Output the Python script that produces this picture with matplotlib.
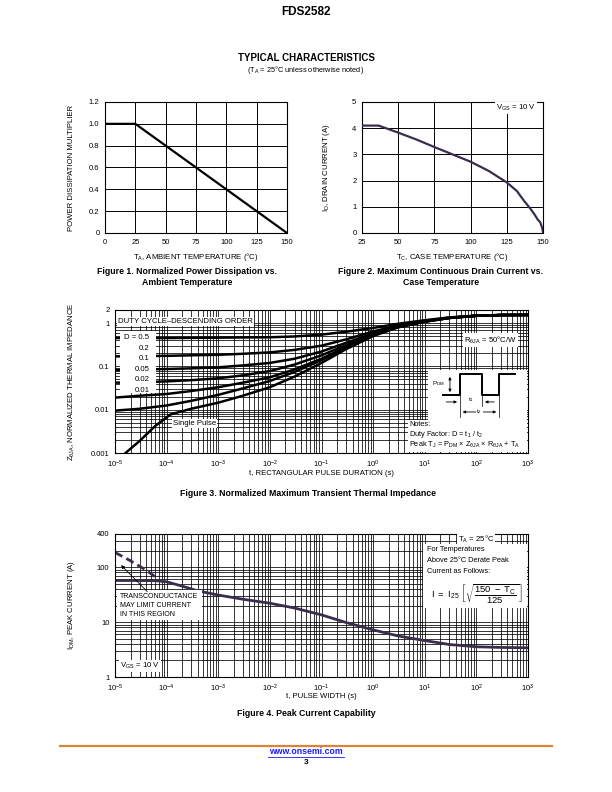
import matplotlib
matplotlib.use('Agg')
import matplotlib.pyplot as plt
import numpy as np
from matplotlib.patches import Rectangle
from matplotlib.lines import Line2D
from matplotlib.ticker import FixedLocator, LogLocator, NullFormatter

plt.rcParams['font.family'] = ['Liberation Sans', 'DejaVu Sans']
plt.rcParams['mathtext.fontset'] = 'custom'
plt.rcParams['mathtext.rm'] = 'Liberation Sans'
plt.rcParams['mathtext.it'] = 'Liberation Sans:italic'
plt.rcParams['mathtext.bf'] = 'Liberation Sans:bold'

# Figure 1
temp_a = [0, 25, 150]
power_mult = [1.0, 1.0, 0.0]

# Figure 2
temp_c = [25, 36.5, 50, 62.5, 75, 87.5, 100, 112.5, 125, 132, 137, 141, 144, 146.5, 148, 149.3, 149.8, 150]
drain_i = [4.1, 4.1, 3.83, 3.57, 3.28, 3.0, 2.72, 2.37, 1.93, 1.6, 1.22, 0.95, 0.72, 0.5, 0.42, 0.22, 0.1, 0.0]

# Figure 3
t_pulse = [1e-5, 3e-5, 1e-4, 3e-4, 1e-3, 3e-3, 1e-2, 3e-2, 1e-1, 3e-1, 1, 3, 10, 30, 100, 300, 1000]
z_d05 = [0.45, 0.45, 0.45, 0.455, 0.46, 0.465, 0.47, 0.49, 0.54, 0.63, 0.77, 0.96, 1.16, 1.35, 1.48, 1.53, 1.54]
z_d02 = [0.17, 0.172, 0.175, 0.18, 0.185, 0.195, 0.21, 0.24, 0.3, 0.42, 0.64, 0.88, 1.12, 1.33, 1.47, 1.53, 1.54]
z_d01 = [0.082, 0.084, 0.087, 0.09, 0.095, 0.105, 0.12, 0.15, 0.22, 0.35, 0.58, 0.84, 1.1, 1.32, 1.47, 1.53, 1.54]
z_d005 = [0.042, 0.043, 0.045, 0.048, 0.053, 0.062, 0.078, 0.11, 0.18, 0.31, 0.55, 0.82, 1.09, 1.32, 1.47, 1.53, 1.54]
z_d002 = [0.019, 0.021, 0.023, 0.027, 0.033, 0.042, 0.056, 0.085, 0.15, 0.28, 0.53, 0.81, 1.08, 1.31, 1.47, 1.53, 1.54]
z_d001 = [0.0095, 0.0105, 0.0125, 0.016, 0.022, 0.031, 0.046, 0.074, 0.14, 0.27, 0.52, 0.8, 1.08, 1.31, 1.47, 1.53, 1.54]
t_single = [1.6e-5, 3e-5, 6e-5, 1.2e-4, 3e-4, 1e-3, 3e-3, 1e-2, 3e-2, 1e-1, 3e-1, 1, 3, 10, 30, 100, 300, 1000]
z_single = [0.001, 0.0019, 0.0042, 0.0078, 0.0105, 0.0145, 0.021, 0.033, 0.058, 0.12, 0.25, 0.5, 0.79, 1.07, 1.31, 1.47, 1.53, 1.54]
duty_labels = ['D = 0.5', '0.2', '0.1', '0.05', '0.02', '0.01']

# Figure 4
t_width = [1e-5, 3e-5, 6e-5, 1e-4, 2e-4, 4e-4, 1e-3, 3e-3, 1e-2, 3e-2, 1e-1, 3e-1, 1, 3, 10, 30, 100, 300, 1000]
i_peak = [57, 57, 56.5, 54, 45, 37, 31, 26, 22, 18, 13.5, 9.8, 7.2, 5.6, 4.6, 3.9, 3.55, 3.45, 3.4]
t_gm = [1e-5, 2e-5, 4e-5, 7e-5]
i_gm = [185, 130, 88, 60]

W, H = 612, 792
fig = plt.figure(figsize=(W / 100, H / 100), dpi=100)


def px_axes(l, t, r, b):
    return fig.add_axes([l / W, 1 - b / H, (r - l) / W, (b - t) / H])


def ftext(x, y, s, **kw):
    fig.text(x / W, 1 - y / H, s, **kw)


TICK = 5.5
purple = '#3b2d4d'

# ---- header ----
ftext(306, 12, 'FDS2582', ha='center', va='center', fontsize=8.5, fontweight='bold')
ftext(306, 58, 'TYPICAL CHARACTERISTICS', ha='center', va='center', fontsize=7, fontweight='bold')
ftext(306, 70, r'(T$_\mathregular{A}$ = 25°C unless otherwise noted)', ha='center', va='center', fontsize=5.3)

# ---- Figure 1 ----
ax1 = px_axes(105, 102, 287, 233)
ax1.plot(temp_a, power_mult, color='black', lw=1.6, zorder=3)
ax1.set_xlim(0, 150)
ax1.set_ylim(0, 1.2)
ax1.set_xticks(range(0, 151, 25))
ax1.set_yticks(np.arange(0, 1.21, 0.2))
ax1.set_yticklabels(['0', '0.2', '0.4', '0.6', '0.8', '1.0', '1.2'])
ax1.grid(True, color='black', lw=0.7)
ax1.set_xlabel(r'T$_\mathregular{A}$, AMBIENT TEMPERATURE (°C)', fontsize=5.6)
ax1.set_ylabel('POWER DISSIPATION MULTIPLIER', fontsize=5.6)
ax1.xaxis.set_label_coords(0.5, -0.14)
ax1.yaxis.set_label_coords(-0.165, 0.5)
ftext(187, 271, 'Figure 1. Normalized Power Dissipation vs.', ha='center', va='center', fontsize=6.3, fontweight='bold')
ftext(187, 283, 'Ambient Temperature', ha='center', va='center', fontsize=6.3, fontweight='bold')

# ---- Figure 2 ----
ax2 = px_axes(362, 102, 543, 233)
ax2.plot(temp_c, drain_i, color=purple, lw=1.6, zorder=3)
ax2.set_xlim(25, 150)
ax2.set_ylim(0, 5)
ax2.set_xticks(range(25, 151, 25))
ax2.set_yticks(range(0, 6))
ax2.grid(True, color='black', lw=0.7)
ax2.set_xlabel(r'T$_\mathregular{C}$, CASE TEMPERATURE (°C)', fontsize=5.6)
ax2.set_ylabel(r'I$_\mathregular{D}$, DRAIN CURRENT (A)', fontsize=5.6)
ax2.xaxis.set_label_coords(0.5, -0.14)
ax2.yaxis.set_label_coords(-0.165, 0.5)
ax2.text(0.96, 0.955, r'V$_\mathregular{GS}$ = 10 V', transform=ax2.transAxes, ha='right', va='center',
         fontsize=5.6, bbox=dict(facecolor='white', edgecolor='none', pad=0.8), zorder=5)
ftext(441, 271, 'Figure 2. Maximum Continuous Drain Current vs.', ha='center', va='center', fontsize=6.3, fontweight='bold')
ftext(441, 283, 'Case Temperature', ha='center', va='center', fontsize=6.3, fontweight='bold')

for ax in (ax1, ax2):
    ax.tick_params(length=0, labelsize=TICK, pad=4)
    for s in ax.spines.values():
        s.set_linewidth(0.8)


def log_grid(ax):
    ax.set_xscale('log')
    ax.set_yscale('log')
    ax.xaxis.set_major_locator(LogLocator(base=10, numticks=20))
    ax.xaxis.set_minor_locator(LogLocator(base=10, subs=np.arange(2, 10), numticks=20))
    ax.yaxis.set_minor_locator(LogLocator(base=10, subs=np.arange(2, 10), numticks=20))
    ax.xaxis.set_minor_formatter(NullFormatter())
    ax.yaxis.set_minor_formatter(NullFormatter())
    ax.grid(True, which='both', color='black', lw=0.55)
    ax.tick_params(which='both', length=0, labelsize=TICK, pad=4)
    for s in ax.spines.values():
        s.set_linewidth(0.8)


# ---- Figure 3 ----
ax3 = px_axes(115, 310, 528, 453)
log_grid(ax3)
for z in (z_d05, z_d02, z_d01, z_d005, z_d002, z_d001):
    ax3.plot(t_pulse, z, color='black', lw=1.8, zorder=2, solid_capstyle='butt')
ax3.plot(t_single, z_single, color='black', lw=1.8, zorder=2)
ax3.set_xlim(1e-5, 1e3)
ax3.set_ylim(1e-3, 2)
ax3.yaxis.set_major_locator(FixedLocator([0.001, 0.01, 0.1, 1, 2]))
ax3.set_yticklabels(['0.001', '0.01', '0.1', '1', '2'])
ax3.set_xlabel('t, RECTANGULAR PULSE DURATION (s)', fontsize=5.6)
ax3.set_ylabel(r'Z$_\mathregular{θJA}$, NORMALIZED THERMAL IMPEDANCE', fontsize=5.6)
ax3.xaxis.set_label_coords(0.5, -0.12)
ax3.yaxis.set_label_coords(-0.092, 0.5)

tr3 = ax3.transAxes
ax3.text(0.008, 0.918, 'DUTY CYCLE\u2013DESCENDING ORDER', transform=tr3, ha='left', va='center', fontsize=5.6,
         bbox=dict(facecolor='white', edgecolor='none', pad=0.6), zorder=5)
ax3.add_patch(Rectangle((0.012, 0.42), 0.088, 0.43, transform=tr3, facecolor='white', edgecolor='none', zorder=4))
for k, lab in enumerate(duty_labels):
    ax3.text(0.083, 0.805 - k * 0.0735, lab, transform=tr3, ha='right', va='center', fontsize=5.6, zorder=5)
ax3.text(0.14, 0.205, 'Single Pulse', transform=tr3, ha='left', va='center', fontsize=5.6,
         bbox=dict(facecolor='white', edgecolor='none', pad=0.6), zorder=5)
ax3.text(0.845, 0.79, r'R$_\mathregular{θJA}$ = 50°C/W', transform=tr3, ha='left', va='center', fontsize=5.6,
         bbox=dict(facecolor='white', edgecolor='none', pad=0.8), zorder=5)

# notes box with the pulse sketch
ax3.add_patch(Rectangle((0.758, 0.23), 0.24, 0.35, transform=tr3, facecolor='white', edgecolor='none', zorder=4))
ax3.add_patch(Rectangle((0.709, 0.007), 0.289, 0.225, transform=tr3, facecolor='white', edgecolor='none', zorder=4))
lo, hi = 0.406, 0.552
xs = [0.794, 0.835, 0.835, 0.889, 0.889, 0.930, 0.930, 0.969]
ys = [lo, lo, hi, hi, lo, lo, hi, hi]
ax3.add_line(Line2D(xs, ys, transform=tr3, color='black', lw=1.4, zorder=6))
ax3.annotate('', xy=(0.811, hi), xytext=(0.811, lo), xycoords=tr3, textcoords=tr3,
             arrowprops=dict(arrowstyle='<|-|>', lw=0.6, color='black', mutation_scale=4), zorder=6)
ax3.text(0.782, 0.483, r'P$_\mathregular{DM}$', transform=tr3, ha='center', va='center', fontsize=4.5, zorder=6)
# t1 / t2 dimension lines
for xv, y0 in ((0.835, 0.25), (0.889, 0.33), (0.930, 0.25)):
    ax3.add_line(Line2D([xv, xv], [lo, y0], transform=tr3, color='black', lw=0.5, zorder=6))
ax3.annotate('', xy=(0.835, 0.357), xytext=(0.795, 0.357), xycoords=tr3, textcoords=tr3,
             arrowprops=dict(arrowstyle='-|>', lw=0.6, color='black', mutation_scale=4), zorder=6)
ax3.annotate('', xy=(0.889, 0.357), xytext=(0.925, 0.357), xycoords=tr3, textcoords=tr3,
             arrowprops=dict(arrowstyle='-|>', lw=0.6, color='black', mutation_scale=4), zorder=6)
ax3.text(0.862, 0.372, r't$_\mathregular{1}$', transform=tr3, ha='center', va='center', fontsize=4.5, zorder=6)
ax3.annotate('', xy=(0.930, 0.287), xytext=(0.835, 0.287), xycoords=tr3, textcoords=tr3,
             arrowprops=dict(arrowstyle='<|-|>', lw=0.6, color='black', mutation_scale=4), zorder=6)
ax3.text(0.882, 0.287, r't$_\mathregular{2}$', transform=tr3, ha='center', va='center', fontsize=4.5, zorder=7,
         bbox=dict(facecolor='white', edgecolor='none', pad=0.3))
ax3.text(0.713, 0.20, 'Notes:', transform=tr3, ha='left', va='center', fontsize=5.3, zorder=6)
ax3.text(0.713, 0.13, r'Duty Factor: D = t$_\mathregular{1}$ / t$_\mathregular{2}$', transform=tr3,
         ha='left', va='center', fontsize=5.3, zorder=6)
ax3.text(0.713, 0.055, r'Peak T$_\mathregular{J}$ = P$_\mathregular{DM}$ × Z$_\mathregular{θJA}$ × R$_\mathregular{θJA}$ + T$_\mathregular{A}$',
         transform=tr3, ha='left', va='center', fontsize=5.3, zorder=6)
ftext(308, 493, 'Figure 3. Normalized Maximum Transient Thermal Impedance', ha='center', va='center',
      fontsize=6.3, fontweight='bold')

# ---- Figure 4 ----
ax4 = px_axes(115, 534, 528, 677)
log_grid(ax4)
ax4.plot(t_width, i_peak, color=purple, lw=2.0, zorder=2)
ax4.plot(t_gm, i_gm, color=purple, lw=2.0, ls=(0, (3, 1.6)), zorder=2)
ax4.set_xlim(1e-5, 1e3)
ax4.set_ylim(1, 400)
ax4.yaxis.set_major_locator(FixedLocator([1, 10, 100, 400]))
ax4.set_yticklabels(['1', '10', '100', '400'])
ax4.set_xlabel('t, PULSE WIDTH (s)', fontsize=5.6)
ax4.set_ylabel(r'I$_\mathregular{DM}$, PEAK CURRENT (A)', fontsize=5.6)
ax4.xaxis.set_label_coords(0.5, -0.11)
ax4.yaxis.set_label_coords(-0.092, 0.5)

tr4 = ax4.transAxes
ax4.add_patch(Rectangle((0.006, 0.40), 0.205, 0.21, transform=tr4, facecolor='white', edgecolor='none', zorder=4))
for k, line in enumerate(['TRANSCONDUCTANCE', 'MAY LIMIT CURRENT', 'IN THIS REGION']):
    ax4.text(0.013, 0.566 - k * 0.066, line, transform=tr4, ha='left', va='center', fontsize=5.0, zorder=5)
ax4.annotate('', xy=(1.2e-5, 118), xytext=(4.6e-5, 33),
             arrowprops=dict(arrowstyle='-|>', lw=0.6, color='black', mutation_scale=5), zorder=6)
ax4.text(0.013, 0.075, r'V$_\mathregular{GS}$ = 10 V', transform=tr4, ha='left', va='center', fontsize=5.6,
         bbox=dict(facecolor='white', edgecolor='none', pad=0.8), zorder=5)
ax4.text(0.83, 0.965, r'T$_\mathregular{A}$ = 25°C', transform=tr4, ha='left', va='center', fontsize=5.6,
         bbox=dict(facecolor='white', edgecolor='none', pad=0.6), zorder=5)
ax4.add_patch(Rectangle((0.745, 0.48), 0.253, 0.45, transform=tr4, facecolor='white', edgecolor='none', zorder=4))
for k, line in enumerate(['For Temperatures', 'Above 25°C Derate Peak', 'Current as Follows:']):
    ax4.text(0.755, 0.895 - k * 0.078, line, transform=tr4, ha='left', va='center', fontsize=5.3, zorder=5)
ax4.text(0.765, 0.58,
         r'$\mathregular{I\ =\ I_{25}}\ \left[\sqrt{\dfrac{\mathregular{150\ -\ T_C}}{\mathregular{125}}}\,\right]$',
         transform=tr4, ha='left', va='center', fontsize=6.8, zorder=5)
ftext(306, 714, 'Figure 4. Peak Current Capability', ha='center', va='center', fontsize=6.3, fontweight='bold')

# ---- footer ----
fig.add_artist(Line2D([60 / W, 552 / W], [1 - 746 / H, 1 - 746 / H], color='#d98535', lw=1.6))
ftext(306, 752, 'www.onsemi.com', ha='center', va='center', fontsize=6.3, fontweight='bold', color='#1a1aff')
fig.add_artist(Line2D([268 / W, 344 / W], [1 - 756.5 / H, 1 - 756.5 / H], color='#1a1aff', lw=0.6))
ftext(306, 762, '3', ha='center', va='center', fontsize=6, fontweight='bold')

fig.savefig('out.png', dpi=100)
